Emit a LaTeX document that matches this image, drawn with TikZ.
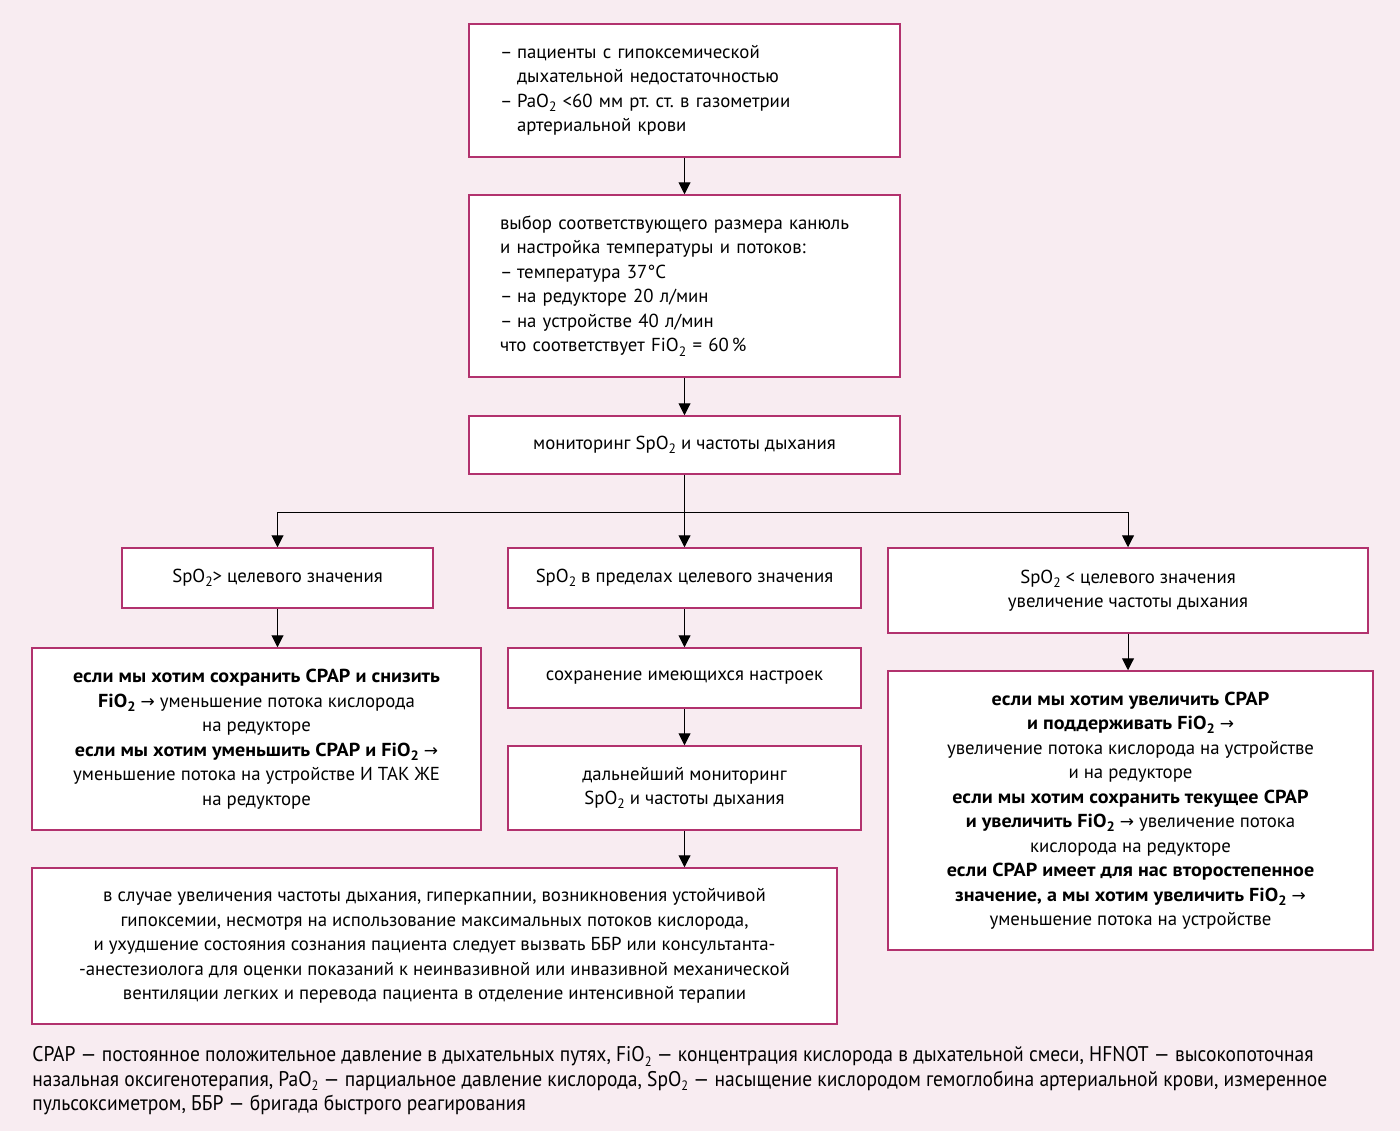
\documentclass[tikz,border=0pt]{standalone}
\usepackage{fontspec}
\setmainfont[BoldFeatures={FakeStretch=1.07}]{PT Sans}
\newfontfamily\legendfont[FakeStretch=0.92]{PT Sans}
\newfontfamily\symfont{DejaVu Sans}
\usetikzlibrary{arrows.meta}
\frenchspacing
\definecolor{bgpink}{RGB}{248,236,241}
\definecolor{boxline}{RGB}{178,50,110}
\newcommand\subtwo{\raisebox{-0.45ex}{\fontsize{6.8}{7}\selectfont 2}}
\newcommand\rarr{{\symfont\fontsize{8.5}{7}\selectfont →}}
\newcommand\dd{\makebox[8.5pt][l]{–}}
\newcommand\ind{\hspace*{8.5pt}}
\tikzset{
  box/.style={draw=boxline, line width=0.75pt, fill=white, inner sep=0pt,
    font=\fontsize{9.4}{12.25}\selectfont},
  cbox/.style={box, align=center},
  lbox/.style={box, align=left, inner xsep=15.5pt},
  arr/.style={-{Triangle[width=6pt,length=6pt]}, line width=0.5pt, black},
  ln/.style={line width=0.5pt, black}
}
\begin{document}
\begin{tikzpicture}[x=0.5pt,y=-0.5pt]
\useasboundingbox[fill=bgpink] (0,0) rectangle (1400,1131);
% boxes
\node[lbox, minimum width=215.5pt, minimum height=66.5pt, text width=184.5pt] (b1) at (684.5,90.5)
 {\dd пациенты с гипоксемической\\ \ind дыхательной недостаточностью\\ \dd PaO\subtwo{} <60 мм рт. ст. в газометрии\\ \ind артериальной крови};
\node[lbox, minimum width=215.5pt, minimum height=91pt, text width=184.5pt] (b2) at (684.5,286)
 {выбор соответствующего размера канюль\\ и настройка температуры и потоков:\\ \dd температура 37°C\\ \dd на редукторе 20 л/мин\\ \dd на устройстве 40 л/мин\\ что соответствует FiO\subtwo{} = 60\,\%};
\node[cbox, minimum width=215.5pt, minimum height=29pt] (b3) at (684.5,445)
 {мониторинг SpO\subtwo{} и частоты дыхания};
\node[cbox, minimum width=155.5pt, minimum height=30pt] (b4) at (277.5,578)
 {SpO\subtwo> целевого значения};
\node[cbox, minimum width=176.5pt, minimum height=30pt] (b5) at (684.5,578)
 {SpO\subtwo{} в пределах целевого значения};
\node[cbox, minimum width=240pt, minimum height=42.5pt] (b6) at (1128,590.5)
 {SpO\subtwo{} < целевого значения\\ увеличение частоты дыхания};
\node[cbox, minimum width=224.5pt, minimum height=91pt] (b7) at (256.5,739)
 {\textbf{если мы хотим сохранить CPAP и снизить}\\ \textbf{FiO\subtwo} \rarr{} уменьшение потока кислорода\\ на редукторе\\ \textbf{если мы хотим уменьшить CPAP и FiO\subtwo} \rarr\\ уменьшение потока на устройстве И ТАК ЖЕ\\ на редукторе};
\node[cbox, minimum width=176.5pt, minimum height=30pt] (b8) at (684.5,678)
 {сохранение имеющихся настроек};
\node[cbox, minimum width=176.5pt, minimum height=42pt] (b9) at (684.5,788)
 {дальнейший мониторинг\\ SpO\subtwo{} и частоты дыхания};
\node[cbox, minimum width=402.5pt, minimum height=78pt] (b10) at (434.5,946)
 {в случае увеличения частоты дыхания, гиперкапнии, возникновения устойчивой\\ гипоксемии, несмотря на использование максимальных потоков кислорода,\\ и ухудшение состояния сознания пациента следует вызвать ББР или консультанта-\\ -анестезиолога для оценки показаний к неинвазивной или инвазивной механической\\ вентиляции легких и перевода пациента в отделение интенсивной терапии};
\node[cbox, minimum width=242.5pt, minimum height=139.5pt] (b11) at (1130.5,810.5)
 {\textbf{если мы хотим увеличить CPAP}\\ \textbf{и поддерживать FiO\subtwo} \rarr\\ увеличение потока кислорода на устройстве\\ и на редукторе\\ \textbf{если мы хотим сохранить текущее CPAP}\\ \textbf{и увеличить FiO\subtwo} \rarr{} увеличение потока\\ кислорода на редукторе\\ \textbf{если CPAP имеет для нас второстепенное}\\ \textbf{значение, а мы хотим увеличить FiO\subtwo} \rarr\\ уменьшение потока на устройстве};
% legend
\node[anchor=north west, inner sep=0pt, align=left, font=\legendfont\fontsize{10.6}{12.25}\selectfont] (leg) at (32,1046)
 {CPAP — постоянное положительное давление в дыхательных путях, FiO\subtwo{} — концентрация кислорода в дыхательной смеси, HFNOT — высокопоточная\\ назальная оксигенотерапия, PaO\subtwo{} — парциальное давление кислорода, SpO\subtwo{} — насыщение кислородом гемоглобина артериальной крови, измеренное\\ пульсоксиметром, ББР — бригада быстрого реагирования};
% connectors
\coordinate (j) at (684.5,512);
\draw[arr] (b1.south) -- (b2.north);
\draw[arr] (b2.south) -- (b3.north);
\draw[arr] (b3.south) -- (b5.north);
\draw[arr] (j) -| (b4.north);
\draw[arr] (j) -| (b6.north);
\draw[arr] (b4.south) -- (b4.south |- b7.north);
\draw[arr] (b5.south) -- (b8.north);
\draw[arr] (b8.south) -- (b9.north);
\draw[arr] (b9.south) -- (b9.south |- b10.north);
\draw[arr] (b6.south) -- (b6.south |- b11.north);
\end{tikzpicture}
\end{document}
